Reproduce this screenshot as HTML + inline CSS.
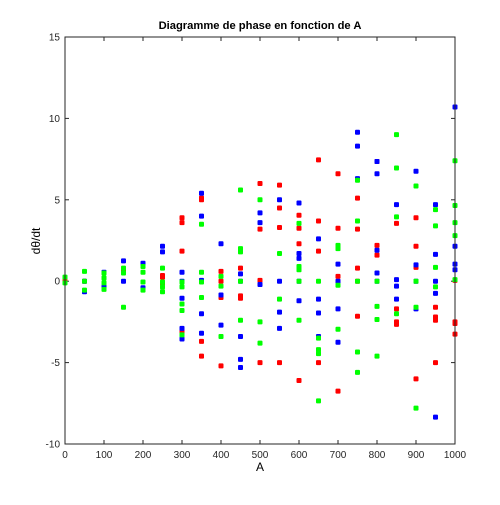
<!DOCTYPE html>
<html><head><meta charset="utf-8"><style>
body{margin:0;background:#fff;}
svg text{font-family:"Liberation Sans",sans-serif;}
</style></head><body>
<svg id="chart" width="500" height="500" xmlns="http://www.w3.org/2000/svg">
<rect x="0" y="0" width="500" height="500" fill="#fff"/>
<text x="260" y="29" font-size="11.2" font-weight="bold" text-anchor="middle">Diagramme de phase en fonction de A</text>
<g id="ticks"></g>
<g id="marks"></g>
<rect x="65" y="37" width="390" height="407" fill="none" stroke="#262626" stroke-width="1"/>
<text x="260" y="471" font-size="12" text-anchor="middle">A</text>
<text transform="translate(40,241) rotate(-90)" font-size="12" text-anchor="middle">dθ/dt</text>
</svg>
<script>
const xTicks=[0,100,200,300,400,500,600,700,800,900,1000];
const yTicks=[-10,-5,0,5,10,15];
const redA=[0,50,150,250,250,250,300,300,300,300,350,350,350,350,400,400,400,400,450,450,450,500,500,500,500,550,550,550,550,600,600,600,600,650,650,650,650,700,700,700,700,750,750,750,750,750,800,800,800,850,850,850,850,900,900,900,900,950,950,950,950,1000,1000,1000,1000];
const redV=[0,0,0.7,0.35,0.25,-0.1,3.9,3.6,1.85,-3.1,5.1,5.0,-3.7,-4.6,0.6,0.0,-1.0,-5.2,0.8,-0.9,-1.05,6.0,3.2,0.05,-5.0,5.9,4.5,3.3,-5.0,4.05,3.25,2.3,-6.1,7.45,3.7,1.85,-5.0,6.6,3.25,0.3,-6.75,5.1,3.2,0.8,0,-2.15,7.35,2.2,1.6,3.55,-1.7,-2.5,-2.65,3.9,2.15,0.85,-6.0,-1.6,-2.2,-2.4,-5.0,0.05,-2.5,-2.6,-3.25];
const blueA=[50,50,100,100,150,150,200,200,250,250,300,300,300,300,300,350,350,350,350,350,400,400,400,450,450,450,450,450,500,500,500,550,550,550,550,600,600,600,600,600,650,650,650,650,700,700,700,700,750,750,750,800,800,800,800,800,850,850,850,850,900,900,900,900,950,950,950,950,950,1000,1000,1000,1000];
const blueV=[0,-0.65,0.55,-0.35,1.25,0,1.1,-0.4,2.15,1.8,0.55,0,-1.05,-2.9,-3.55,5.4,4.0,0.05,-2.0,-3.2,2.3,-0.85,-2.7,0.45,0,-3.4,-4.8,-5.3,4.2,3.6,-0.2,5.0,0,-1.9,-2.9,4.8,1.7,1.4,0,-1.2,2.6,-1.1,-1.95,-3.4,1.05,0,-1.7,-3.75,9.15,8.3,6.3,7.35,6.6,1.9,0.5,0,4.7,0.1,-0.3,-1.1,6.75,1.0,0,-1.7,4.7,1.65,0,-0.75,-8.35,10.7,2.15,1.05,0.7];
const greenA=[0,0,50,50,50,100,100,100,100,150,150,150,200,200,200,200,250,250,250,250,300,300,300,300,300,350,350,350,350,400,400,400,450,450,450,450,450,500,500,500,550,550,600,600,600,600,600,650,650,650,650,650,700,700,700,700,750,750,750,750,750,800,800,800,800,850,850,850,850,900,900,900,900,950,950,950,950,1000,1000,1000,1000,1000];
const greenV=[0.25,-0.1,0.6,0,-0.55,0.5,0.2,-0.1,-0.5,0.8,0.5,-1.6,0.9,0.55,-0.05,-0.55,0.8,-0.05,-0.35,-0.65,-0.05,-0.35,-1.4,-1.8,-3.3,3.5,0.55,-0.05,-1.0,0.3,-0.3,-3.4,5.6,2.0,1.8,0,-2.4,5.0,-2.5,-3.8,1.7,-1.1,3.55,0.9,0.7,0,-2.4,0,-3.5,-4.2,-4.45,-7.35,2.2,2.0,-0.25,-2.95,6.2,3.7,0,-4.35,-5.6,0,-1.55,-2.35,-4.6,9.0,6.95,3.95,-2.0,5.85,0,-1.6,-7.8,4.4,3.4,0.85,-0.35,7.4,4.65,3.6,2.8,0.1];

const NS="http://www.w3.org/2000/svg";
function xs(v){return 65+v/1000*390;}
function ys(v){return 444-(v+10)/25*407;}
const tg=document.getElementById('ticks');
xTicks.forEach(t=>{
  const l=document.createElementNS(NS,'line');
  
  
  l.setAttribute('x1',xs(t));l.setAttribute('x2',xs(t));l.setAttribute('y1',444);l.setAttribute('y2',440);
  l.setAttribute('stroke','#262626');tg.appendChild(l);
  const l2=document.createElementNS(NS,'line');
  
  
  l2.setAttribute('x1',xs(t));l2.setAttribute('x2',xs(t));l2.setAttribute('y1',37);l2.setAttribute('y2',41);
  l2.setAttribute('stroke','#262626');tg.appendChild(l2);
  const tx=document.createElementNS(NS,'text');
  
  
  tx.setAttribute('x',xs(t));tx.setAttribute('y',458);tx.setAttribute('font-size','10');tx.setAttribute('text-anchor','middle');tx.setAttribute('fill','#262626');
  tx.textContent=t;tg.appendChild(tx);
});
yTicks.forEach(t=>{
  const l=document.createElementNS(NS,'line');
  
  
  l.setAttribute('x1',65);l.setAttribute('x2',69);l.setAttribute('y1',ys(t));l.setAttribute('y2',ys(t));
  l.setAttribute('stroke','#262626');tg.appendChild(l);
  const l2=document.createElementNS(NS,'line');
  
  
  l2.setAttribute('x1',451);l2.setAttribute('x2',455);l2.setAttribute('y1',ys(t));l2.setAttribute('y2',ys(t));
  l2.setAttribute('stroke','#262626');tg.appendChild(l2);
  const tx=document.createElementNS(NS,'text');
  
  
  tx.setAttribute('x',60);tx.setAttribute('y',ys(t)+3.5);tx.setAttribute('font-size','10');tx.setAttribute('text-anchor','end');tx.setAttribute('fill','#262626');
  tx.textContent=t;tg.appendChild(tx);
});
const mg=document.getElementById('marks');
function series(A,V,color,name){
  for(let i=0;i<A.length;i++){
    const r=document.createElementNS(NS,'rect');
    
    
    r.setAttribute('x',xs(A[i])-2.5);r.setAttribute('y',ys(V[i])-2.5);
    r.setAttribute('width',5);r.setAttribute('height',5);r.setAttribute('rx',1);
    r.setAttribute('fill',color);mg.appendChild(r);
  }
}
series(redA,redV,'#ff0000','red-point');
series(blueA,blueV,'#0000ff','blue-point');
series(greenA,greenV,'#00ff00','green-point');
</script>
</body></html>
